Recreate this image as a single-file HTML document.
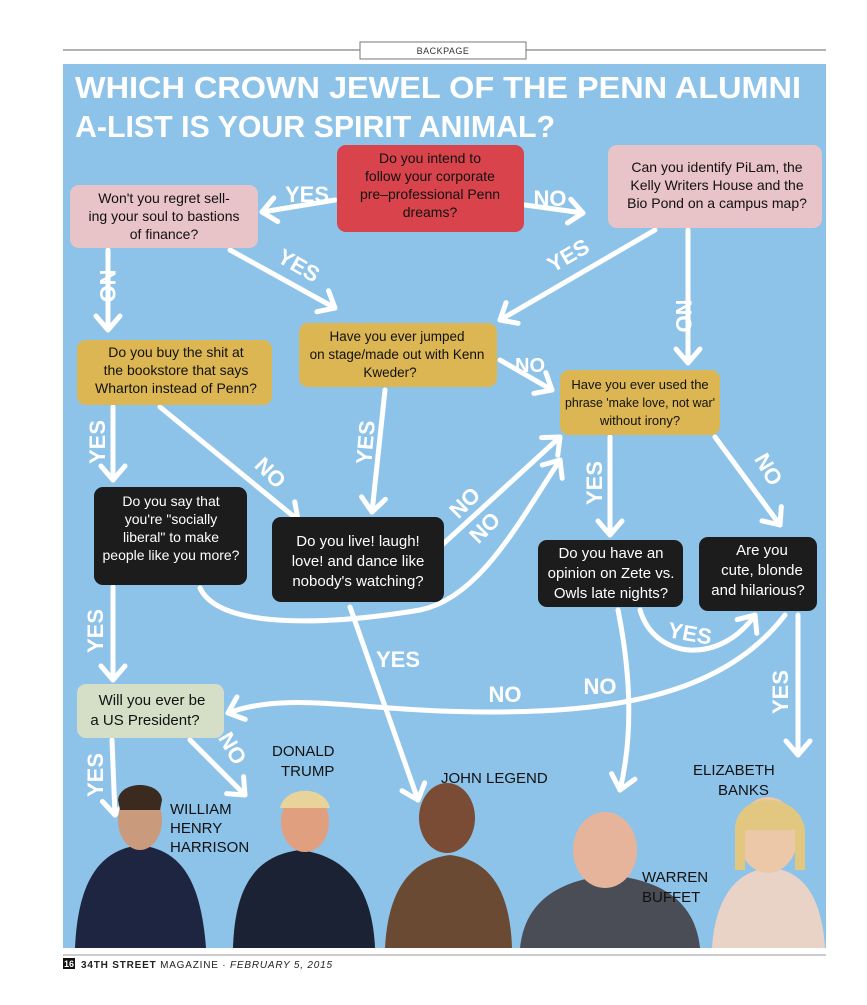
<!DOCTYPE html>
<html><head><meta charset="utf-8"><style>
body{margin:0;background:#fff;width:867px;height:1000px;overflow:hidden;font-family:"Liberation Sans",sans-serif}
</style></head><body>
<svg width="867" height="1000" viewBox="0 0 867 1000" xmlns="http://www.w3.org/2000/svg">
<defs>
<marker id="a" markerUnits="userSpaceOnUse" markerWidth="40" markerHeight="40" refX="20" refY="20" orient="auto">
<polyline points="6,8 20,20 6,32" fill="none" stroke="#fff" stroke-width="5" stroke-linecap="round" stroke-linejoin="round"/>
</marker>
</defs>
<line x1="63" y1="50" x2="826" y2="50" stroke="#999" stroke-width="1.5"/>
<rect x="360" y="42" width="166" height="17" fill="#fff" stroke="#777"/>
<text x="443" y="54" font-size="9" text-anchor="middle" fill="#333" letter-spacing="0.5">BACKPAGE</text>
<rect x="63" y="64" width="763" height="884" fill="#8ec3e9"/>
<g font-weight="bold" fill="#fff" font-size="31" font-family="Liberation Sans, sans-serif">
<text x="75" y="98" textLength="726" lengthAdjust="spacingAndGlyphs">WHICH CROWN JEWEL OF THE PENN ALUMNI</text>
<text x="75" y="137" textLength="480" lengthAdjust="spacingAndGlyphs">A-LIST IS YOUR SPIRIT ANIMAL?</text>
</g>
<g fill="none" stroke="#fff" stroke-width="5" stroke-linecap="round" marker-end="url(#a)">
<path d="M335,200 L262,212"/>
<path d="M525,205 L583,213"/>
<path d="M655,230 L500,320"/>
<path d="M688,230 L688,363"/>
<path d="M230,250 L335,308"/>
<path d="M108,250 L108,330"/>
<path d="M500,360 L552,390"/>
<path d="M113,407 L113,480"/>
<path d="M160,407 L298,520"/>
<path d="M385,390 L372,512"/>
<path d="M442,545 L560,437"/>
<path d="M200,588 C220,630 330,625 420,610 C480,598 520,520 560,460"/>
<path d="M610,437 L610,535"/>
<path d="M715,437 L780,525"/>
<path d="M640,610 C655,660 720,665 755,615"/>
<path d="M785,615 C720,700 600,712 490,712 C360,712 290,690 228,713"/>
<path d="M618,610 C632,680 632,740 620,790"/>
<path d="M798,615 L798,755"/>
<path d="M113,587 L113,680"/>
<path d="M350,607 L418,800"/>
<path d="M112,740 L115,815"/>
<path d="M190,740 L245,795"/>
</g>
<g fill="#fff" font-weight="bold" font-size="22" font-family="Liberation Sans, sans-serif" text-anchor="middle">
<text x="307" y="202">YES</text>
<text x="550" y="206">NO</text>
<text x="530" y="372" font-size="20">NO</text>
<text x="398" y="667">YES</text>
<text x="505" y="702">NO</text>
<text x="600" y="694">NO</text>
<text x="690" y="641" transform="rotate(10 690 633)">YES</text>
<text transform="translate(572,262) rotate(-30)">YES</text>
<text transform="translate(676,316) rotate(90)">NO</text>
<text transform="translate(295,272) rotate(30)">YES</text>
<text transform="translate(100,286) rotate(90)">NO</text>
<text transform="translate(105,442) rotate(-90)">YES</text>
<text transform="translate(265,478) rotate(45)">NO</text>
<text transform="translate(373,443) rotate(-85)">YES</text>
<text transform="translate(470,508) rotate(-45)">NO</text>
<text transform="translate(490,533) rotate(-45)">NO</text>
<text transform="translate(602,483) rotate(-90)">YES</text>
<text transform="translate(762,473) rotate(60)">NO</text>
<text transform="translate(788,692) rotate(-90)">YES</text>
<text transform="translate(103,631) rotate(-90)">YES</text>
<text transform="translate(103,775) rotate(-90)">YES</text>
<text transform="translate(226,752) rotate(60)">NO</text>
</g>
<g font-size="14" font-family="Liberation Sans, sans-serif" text-anchor="middle">
<rect x="337" y="145" width="187" height="87" rx="9" fill="#d9434b"/>
<text x="430" y="163" fill="#111"><tspan x="430">Do you intend to</tspan><tspan x="430" dy="18">follow your corporate</tspan><tspan x="430" dy="18">pre–professional Penn</tspan><tspan x="430" dy="18">dreams?</tspan></text>
<rect x="70" y="185" width="188" height="63" rx="9" fill="#e8c3c8"/>
<text x="164" y="203" fill="#111"><tspan x="164">Won't you regret sell-</tspan><tspan x="164" dy="18">ing your soul to bastions</tspan><tspan x="164" dy="18">of finance?</tspan></text>
<rect x="608" y="145" width="214" height="83" rx="9" fill="#e8c3c8"/>
<text x="717" y="172" fill="#111"><tspan x="717">Can you identify PiLam, the</tspan><tspan x="717" dy="18">Kelly Writers House and the</tspan><tspan x="717" dy="18">Bio Pond on a campus map?</tspan></text>
<rect x="77" y="340" width="195" height="65" rx="9" fill="#dcb653"/>
<text x="176" y="357" fill="#111"><tspan x="176">Do you buy the shit at</tspan><tspan x="176" dy="18">the bookstore that says</tspan><tspan x="176" dy="18">Wharton instead of Penn?</tspan></text>
<rect x="299" y="323" width="198" height="64" rx="9" fill="#dcb653"/>
<text x="397" y="341" fill="#111" font-size="13.5"><tspan x="397">Have you ever jumped</tspan><tspan x="397" dy="18">on stage/made out with Kenn</tspan><tspan x="390" dy="18">Kweder?</tspan></text>
<rect x="560" y="370" width="160" height="65" rx="9" fill="#dcb653"/>
<text x="640" y="389" fill="#111" font-size="13"><tspan x="640">Have you ever used the</tspan><tspan x="640" dy="18" textLength="150" lengthAdjust="spacingAndGlyphs">phrase 'make love, not war'</tspan><tspan x="640" dy="18">without irony?</tspan></text>
<rect x="94" y="487" width="153" height="98" rx="9" fill="#1c1c1c"/>
<text x="171" y="506" fill="#fff"><tspan x="171">Do you say that</tspan><tspan x="171" dy="18">you're "socially</tspan><tspan x="171" dy="18">liberal" to make</tspan><tspan x="171" dy="18">people like you more?</tspan></text>
<rect x="272" y="517" width="172" height="85" rx="9" fill="#1c1c1c"/>
<g font-size="15"><text x="358" y="546" fill="#fff"><tspan x="358">Do you live! laugh!</tspan><tspan x="358" dy="20">love! and dance like</tspan><tspan x="358" dy="20">nobody's watching?</tspan></text>
<rect x="538" y="540" width="145" height="67" rx="9" fill="#1c1c1c"/>
<text x="611" y="558" fill="#fff"><tspan x="611">Do you have an</tspan><tspan x="611" dy="20">opinion on Zete vs.</tspan><tspan x="611" dy="20">Owls late nights?</tspan></text>
<rect x="699" y="537" width="118" height="74" rx="9" fill="#1c1c1c"/>
<text x="762" y="555" fill="#fff"><tspan x="762">Are you</tspan><tspan x="762" dy="20">cute, blonde</tspan><tspan x="758" dy="20">and hilarious?</tspan></text>
<rect x="77" y="684" width="147" height="54" rx="9" fill="#d5dfc8"/>
<text x="152" y="705" fill="#111"><tspan x="152">Will you ever be</tspan><tspan x="145" dy="20">a US President?</tspan></text></g>
</g>
<g>
<path d="M75,948 C78,880 100,850 140,845 C175,850 200,870 206,948Z" fill="#1d2540"/>
<ellipse cx="140" cy="820" rx="22" ry="30" fill="#c99a7c"/>
<path d="M118,800 C120,780 160,780 162,800 L160,810 L120,810Z" fill="#3a2a20"/>
<path d="M233,948 C235,880 260,855 300,850 C340,855 372,880 375,948Z" fill="#1b2233"/>
<ellipse cx="305" cy="822" rx="24" ry="30" fill="#e0a07f"/>
<path d="M280,808 C285,785 325,785 330,808Z" fill="#e8d39a"/>
<path d="M385,948 C388,890 410,860 450,855 C490,860 510,890 512,948Z" fill="#6b4a33"/>
<ellipse cx="447" cy="818" rx="28" ry="35" fill="#7a4c35"/>
<path d="M520,948 C525,900 560,880 610,875 C660,880 695,900 700,948Z" fill="#4a4d55"/>
<ellipse cx="605" cy="850" rx="32" ry="38" fill="#e6b49b"/>
<path d="M712,948 C715,900 735,870 770,868 C805,870 822,900 825,948Z" fill="#e9d2c6"/>
<ellipse cx="768" cy="835" rx="30" ry="38" fill="#ecc8a8"/>
<path d="M735,830 C735,790 800,790 805,830 L805,870 L795,870 L795,830 L745,830 L745,870 L735,870Z" fill="#e2c780"/>
</g>
<g font-size="15" fill="#111" font-family="Liberation Sans, sans-serif">
<text x="170" y="814">WILLIAM</text><text x="170" y="833">HENRY</text><text x="170" y="852">HARRISON</text>
<text x="272" y="756">DONALD</text><text x="281" y="776">TRUMP</text>
<text x="441" y="783">JOHN LEGEND</text>
<text x="642" y="882">WARREN</text><text x="642" y="902">BUFFET</text>
<text x="693" y="775">ELIZABETH</text><text x="718" y="795">BANKS</text>
</g>
<line x1="63" y1="955" x2="826" y2="955" stroke="#999" stroke-width="1"/>
<rect x="63" y="958" width="12" height="11" fill="#111"/>
<text x="69" y="967" font-size="9" font-weight="bold" fill="#fff" text-anchor="middle">16</text>
<text x="81" y="968" font-size="10" fill="#222" letter-spacing="0.8"><tspan font-weight="bold">34TH STREET</tspan> MAGAZINE · <tspan font-style="italic">FEBRUARY 5, 2015</tspan></text>
</svg>
</body></html>
